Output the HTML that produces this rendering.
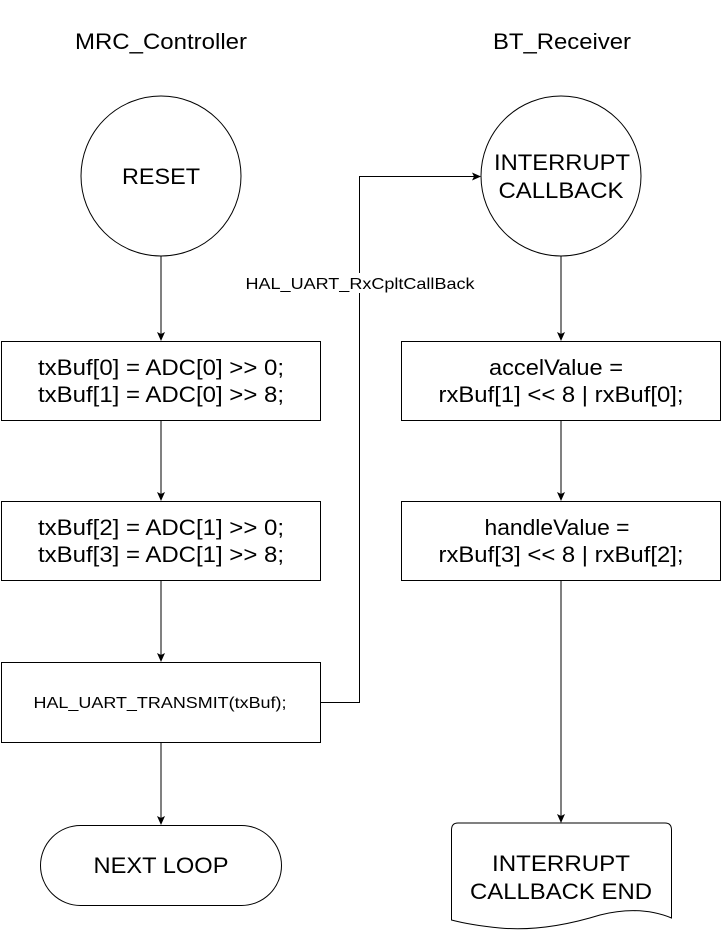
<!DOCTYPE html>
<html><head><style>
body{margin:0;background:#fff;}
svg{display:block;}
text{font-family:"Liberation Sans",Arial,sans-serif;fill:#000;}
</style></head><body>
<svg width="722" height="936" viewBox="0 0 722 936" xmlns="http://www.w3.org/2000/svg">
<defs><marker id="a" markerWidth="10" markerHeight="10" refX="8" refY="5" orient="auto" markerUnits="userSpaceOnUse"><path d="M0,1 L9,5 L0,9 L2,5 Z" fill="#000"/></marker></defs>
<g fill="#fff" stroke="#000" stroke-width="1">
<circle cx="161" cy="176" r="80"/>
<circle cx="561" cy="176" r="80"/>
<rect x="1.5" y="341.5" width="319" height="79"/>
<rect x="1.5" y="501.5" width="319" height="79"/>
<rect x="1.5" y="662.5" width="319" height="80"/>
<rect x="40.5" y="825.5" width="241" height="80" rx="40" ry="40"/>
<rect x="401.5" y="341.5" width="319" height="79"/>
<rect x="401.5" y="501.5" width="319" height="79"/>
<path d="M451.5,830 Q451.5,823 458,823 L665,823 Q671.5,823 671.5,830 L671.5,918 Q640,905 600,915 Q545,932 500,928 Q470,925 451.5,920 Z"/>
</g>
<g stroke="#000" stroke-width="1" fill="none" marker-end="url(#a)">
<line x1="161" y1="256" x2="161" y2="340"/>
<line x1="161" y1="421" x2="161" y2="500"/>
<line x1="161" y1="581" x2="161" y2="661"/>
<line x1="161" y1="743" x2="161" y2="824"/>
<line x1="561" y1="256" x2="561" y2="340"/>
<line x1="561" y1="421" x2="561" y2="500"/>
<line x1="561" y1="581" x2="561" y2="822"/>
<path d="M321,702.5 H359.5 V176.5 H480"/>
</g>
<rect x="243" y="273" width="234" height="20" fill="#fff"/>
<g font-size="22" text-anchor="middle">
<text x="161" y="49" textLength="172" lengthAdjust="spacingAndGlyphs">MRC_Controller</text>
<text x="562" y="49" textLength="138" lengthAdjust="spacingAndGlyphs">BT_Receiver</text>
<text x="161" y="184" textLength="78" lengthAdjust="spacingAndGlyphs">RESET</text>
<text x="562" y="170" textLength="136" lengthAdjust="spacingAndGlyphs">INTERRUPT</text>
<text x="561" y="198" textLength="125" lengthAdjust="spacingAndGlyphs">CALLBACK</text>
<text x="161" y="375" textLength="246" lengthAdjust="spacingAndGlyphs">txBuf[0] = ADC[0] &gt;&gt; 0;</text>
<text x="161" y="402" textLength="246" lengthAdjust="spacingAndGlyphs">txBuf[1] = ADC[0] &gt;&gt; 8;</text>
<text x="161" y="535" textLength="246" lengthAdjust="spacingAndGlyphs">txBuf[2] = ADC[1] &gt;&gt; 0;</text>
<text x="161" y="562" textLength="246" lengthAdjust="spacingAndGlyphs">txBuf[3] = ADC[1] &gt;&gt; 8;</text>
<text x="161" y="873" textLength="135" lengthAdjust="spacingAndGlyphs">NEXT LOOP</text>
<text x="556" y="375" textLength="134" lengthAdjust="spacingAndGlyphs">accelValue =</text>
<text x="561" y="402" textLength="245" lengthAdjust="spacingAndGlyphs">rxBuf[1] &lt;&lt; 8 | rxBuf[0];</text>
<text x="557" y="535" textLength="145" lengthAdjust="spacingAndGlyphs">handleValue =</text>
<text x="561" y="562" textLength="245" lengthAdjust="spacingAndGlyphs">rxBuf[3] &lt;&lt; 8 | rxBuf[2];</text>
<text x="561" y="871" textLength="138" lengthAdjust="spacingAndGlyphs">INTERRUPT</text>
<text x="561" y="899" textLength="182" lengthAdjust="spacingAndGlyphs">CALLBACK END</text>
</g>
<text x="160" y="708" font-size="16" text-anchor="middle" textLength="253" lengthAdjust="spacingAndGlyphs">HAL_UART_TRANSMIT(txBuf);</text>
<text x="360" y="289" font-size="16" text-anchor="middle" textLength="229" lengthAdjust="spacingAndGlyphs">HAL_UART_RxCpltCallBack</text>
</svg>
</body></html>
